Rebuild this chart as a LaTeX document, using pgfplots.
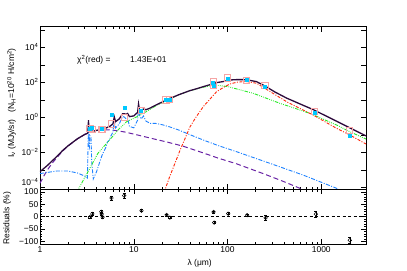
\documentclass[border=0pt]{standalone}
\usepackage{fontspec}
\setmainfont{Liberation Sans}
\usepackage{pgfplots}
\pgfplotsset{compat=1.18}
\definecolor{totc}{RGB}{45,10,60}
\definecolor{hotc}{RGB}{105,35,165}
\definecolor{pahc}{RGB}{30,130,255}
\definecolor{vsgc}{RGB}{40,235,40}
\definecolor{bgc}{RGB}{255,40,10}
\definecolor{modc}{RGB}{245,165,165}
\definecolor{datc}{RGB}{0,200,255}
\begin{document}
\fontsize{8.5}{10}\selectfont
\begin{tikzpicture}
\path[use as bounding box] (0,0) rectangle (407bp,271bp);
\begin{axis}[scale only axis, anchor=south west, width=326bp,
  xmode=log, xmin=1, xmax=3000,
  axis line style={line width=0.7bp},
  tick style={black, line width=0.5bp},
  major tick length=5bp, minor tick length=2.5bp,
  yticklabel style={inner sep=1.5bp},
  xticklabel style={inner sep=2bp},
  at={(40bp,81.7bp)}, height=162.6bp,
  ymode=log, ymin=7.7e-5, ymax=1.5e5,
  xtick={1,10,100,1000}, xticklabels={},
  ytick={1e-4,1e-3,1e-2,1e-1,1,1e1,1e2,1e3,1e4,1e5},
  yticklabels={\raisebox{1.5bp}[0pt][0pt]{10\textsuperscript{−4}},,10\textsuperscript{−2},,10\textsuperscript{0},,10\textsuperscript{2},,10\textsuperscript{4},},
  yminorticks=false,
  ylabel={I\textsubscript{ν}\ (MJy/sr)\ \ \ (N\textsubscript{H}=10\textsuperscript{20}\ H/cm\textsuperscript{2})},
  ylabel style={at={(axis description cs:-0.087,0.53)}, anchor=center},
]
% hot continuum
\addplot[hotc, line width=1bp, dash pattern=on 5bp off 3bp] coordinates {
(1.0,1.7e-4) (1.1,4.5e-4) (1.2,9.8e-4) (1.35,2.4e-3) (1.5,4.7e-3) (1.75,1.2e-2) (2.0,2.3e-2) (2.5,5.8e-2) (3.0,1.04e-1) (3.5,1.5e-1) (4.0,1.75e-1) (4.5,1.9e-1) (5.0,1.95e-1) (6.0,1.85e-1) (8.0,1.45e-1) (10,1.1e-1) (15,6.5e-2) (22,4.0e-2) (33,2.3e-2) (50,1.1e-2) (80,4.6e-3) (125,2.2e-3) (250,5.6e-4) (400,2.1e-4) (600,8.5e-5) (700,6e-5)};
% PAH
\addplot[pahc, line width=0.9bp, dash pattern=on 4bp off 1.5bp on 1bp off 1.5bp] coordinates {
(1.0,6.1e-4) (1.5,8.5e-4) (2.0,8.5e-4) (2.5,6.6e-4) (3.0,4.4e-4) (3.2,3.4e-4) (3.25,1.35e-2) (3.29,0.55) (3.33,2.6e-2) (3.37,2e-2) (3.40,9e-2) (3.5,7e-2) (3.56,3e-3) (3.7,3e-4) (4.0,7.5e-4) (4.3,2.45e-3) (4.6,7e-3) (5.0,1.76e-2) (5.25,3.88e-2) (5.5,5.04e-2) (5.7,8.54e-2) (6.0,0.145) (6.2,0.75) (6.4,0.245) (7.0,0.414) (7.6,1.11) (7.9,1.04) (8.3,0.80) (8.6,0.91) (9.0,0.30) (10,0.25) (11.0,0.70) (11.25,4.42) (11.5,1.35) (12.0,0.80) (12.7,1.19) (13.5,0.60) (15,0.45) (17,0.45) (20,0.38) (24.3,0.28) (30,0.19) (40,0.10) (55.1,5.04e-2) (80,2.4e-2) (125,1.08e-2) (283,2.35e-3) (641,5e-4) (1456,8.8e-5) (1700,5.5e-5)};
% VSG
\addplot[vsgc, line width=0.9bp, dash pattern=on 3.5bp off 1.2bp on 0.8bp off 1.2bp on 0.8bp off 1.2bp on 0.8bp off 1.2bp] coordinates {
(2.45,5e-5) (3.25,7.8e-4) (4.15,8.8e-3) (5.14,3.27e-2) (6.0,8.5e-2) (6.79,0.188) (8.4,0.561) (11.1,1.15) (14.2,2.4) (17.5,4.8) (24.3,11.5) (30,19) (39.7,33) (55,52) (70.4,68) (85,64) (101.7,56) (140,35.6) (188,23.5) (362,6.3) (755,1.69) (1456,0.363) (2018,0.15) (3000,0.0575)};
% BG
\addplot[bgc, line width=0.9bp, dash pattern=on 3bp off 1.5bp on 1bp off 1.5bp] coordinates {
(21,5e-5) (24.3,4.4e-4) (27.5,2.35e-3) (31.1,1.27e-2) (35,5.6e-2) (39.7,0.279) (46,1.0) (55.1,4.03) (65,11) (76.5,29) (90,50) (106,80) (125,100) (145,108) (165,107) (204,88) (250,45.4) (320,20) (427,7.8) (600,3.1) (820,1.35) (1100,0.55) (1456,0.235) (2018,0.0975) (3000,0.0298)};
% total
\addplot[totc, line width=1.3bp] coordinates {
(1.0,7.8e-4) (1.1,1.2e-3) (1.2,1.78e-3) (1.35,3.25e-3) (1.5,5.55e-3) (1.75,1.29e-2) (2.0,2.39e-2) (2.5,5.87e-2) (3.0,1.05e-1) (3.2,1.2e-1) (3.25,1.39e-1) (3.29,6.8e-1) (3.33,1.56e-1) (3.37,1.52e-1) (3.40,2.25e-1) (3.5,2.2e-1) (3.56,1.55e-1) (3.7,1.6e-1) (4.0,1.79e-1) (4.3,1.92e-1) (4.6,2.07e-1) (5.0,2.33e-1) (5.25,2.69e-1) (5.5,2.93e-1) (5.7,3.4e-1) (6.0,4.2e-1) (6.2,1.04) (6.4,5.65e-1) (7.0,8.06e-1) (7.6,1.6) (7.9,1.6) (8.3,1.48) (8.6,1.65) (9.0,1.1) (10,1.2) (11.0,1.92) (11.25,5.72) (11.5,2.73) (12.0,2.35) (12.7,2.99) (13.5,2.71) (15,3.4) (17,4.84) (20,7.33) (24.3,11.8) (30,19.2) (39.7,33.4) (46,41.6) (55,56) (65,73) (76.5,96) (90,110) (106,135) (125,142) (145,142) (165,135) (204,109) (250,62) (320,28) (427,12.5) (600,5.65) (820,2.75) (1100,1.26) (1456,0.6) (2018,0.2475) (3000,0.087)};
% model band values
\addplot[only marks, mark=square, mark size=3.1bp, mark options={draw=modc, line width=0.7bp}] coordinates {
(3.4,0.235) (3.6,0.215) (4.5,0.214) (4.6,0.21) (5.8,0.42) (8.0,0.95) (12,2.6) (22,10) (24,10.5) (70,105) (71,72) (100,180) (160,135) (250,70) (850,2.09) (2000,0.171)};
% data
\addplot[only marks, mark=square*, mark size=1.5bp, mark options={draw=datc, fill=datc}] coordinates {
(3.4,0.23) (3.6,0.24) (4.5,0.235) (4.6,0.22) (5.8,1.35) (8.0,3.54) (12,2.38) (22,10) (24,10.3) (70,95) (71,64) (100,170) (160,135) (250,56) (850,1.83) (2000,0.089)};
\node[anchor=west, inner sep=0pt] at (axis cs:2.48,1880) {χ\textsuperscript{2}(red) =};
\node[anchor=west, inner sep=0pt] at (axis cs:9.11,1880) {1.43E+01};
\end{axis}
\begin{axis}[scale only axis, anchor=south west, width=326bp,
  xmode=log, xmin=1, xmax=3000,
  axis line style={line width=0.7bp},
  tick style={black, line width=0.5bp},
  major tick length=5bp, minor tick length=2.5bp,
  yticklabel style={inner sep=1.5bp},
  xticklabel style={inner sep=2bp},
  at={(40bp,27bp)}, height=54.7bp,
  ymin=-110, ymax=110,
  xtick={1,10,100,1000}, xticklabels={1,10,100,1000},
  ytick={-100,-50,0,50,100}, yticklabels={−100,−50,0,50,\raisebox{-3bp}[0pt][0pt]{100}},
  minor y tick num=4,
  xlabel={λ (μm)},
  xlabel style={at={(axis description cs:0.49,-0.36)}, anchor=center},
  ylabel={Residuals (\%)},
  ylabel style={at={(axis description cs:-0.101,0.475)}, anchor=center},
]
\addplot[black, line width=0.7bp, dash pattern=on 3bp off 2.5bp] coordinates {(1,0) (3000,0)};
\addplot[only marks, mark=o, mark size=1.8bp, mark options={black, line width=0.5bp},
  error bars/.cd, y dir=both, y explicit,
  error bar style={black, line width=0.5bp},
  error mark options={black, mark size=1.6bp, line width=0.5bp, rotate=90}]
 coordinates {
(3.41,-2) +- (0,5)
(3.61,11) +- (0,5)
(4.50,20) +- (0,5)
(4.55,11) +- (0,5)
(4.65,-2) +- (0,5)
(5.8,75) +- (0,8)
(7.9,85) +- (0,11)
(12.1,24) +- (0,4)
(22.4,7) +- (0,4)
(24.3,-4) +- (0,4)
(71,19) +- (0,4)
(72,-24) +- (0,4)
(101.7,12) +- (0,4)
(162,6) +- (0,4)
(255,-5) +- (0,11)
(876,10) +- (0,11)
(2018,-95) +- (0,12)};
\end{axis}
\end{tikzpicture}
\end{document}
